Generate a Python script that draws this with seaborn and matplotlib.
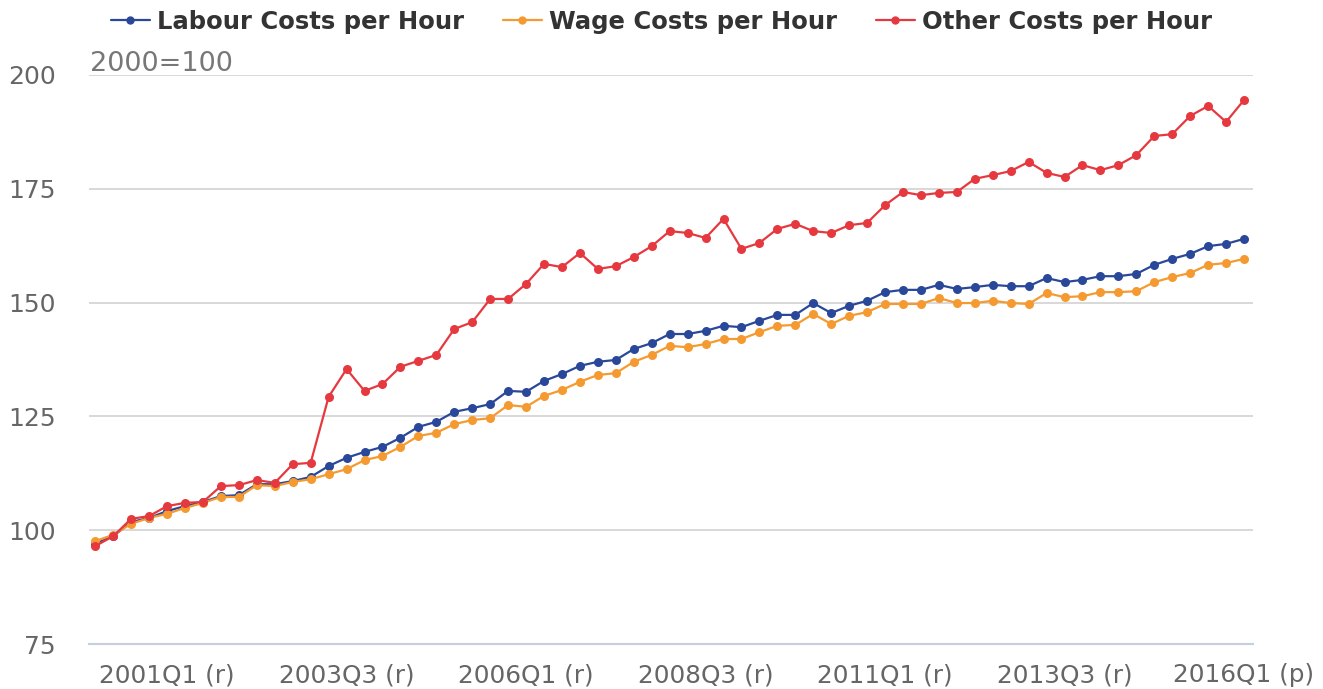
import numpy as np
import pandas as pd
import matplotlib
matplotlib.use("Agg")
import matplotlib.pyplot as plt
import seaborn as sns

quarters = [f"{y}Q{q}" for y in range(2000, 2017) for q in range(1, 5)][:65]

labour = [97.0, 98.7, 101.8, 102.7, 104.2, 105.3, 106.2, 107.5, 107.7, 110.1,
          110.1, 110.8, 111.7, 114.1, 115.9, 117.2, 118.3, 120.3, 122.7, 123.8,
          126.0, 126.8, 127.7, 130.6, 130.4, 132.8, 134.3, 136.1, 137.0, 137.4,
          139.8, 141.1, 143.1, 143.1, 143.8, 144.9, 144.6, 146.0, 147.3, 147.3,
          149.9, 147.7, 149.3, 150.4, 152.3, 152.8, 152.8, 153.9, 153.0, 153.4,
          153.9, 153.6, 153.6, 155.4, 154.5, 155.0, 155.8, 155.8, 156.3, 158.3,
          159.6, 160.7, 162.4, 162.9, 164.0]
wage = [97.6, 99.0, 101.4, 102.7, 103.6, 104.9, 106.0, 107.3, 107.3, 109.9,
        109.7, 110.6, 111.2, 112.3, 113.4, 115.4, 116.3, 118.3, 120.7, 121.4,
        123.3, 124.2, 124.6, 127.5, 127.1, 129.5, 130.8, 132.6, 134.1, 134.5,
        137.0, 138.5, 140.5, 140.2, 140.9, 142.0, 142.0, 143.5, 144.9, 145.1,
        147.5, 145.3, 147.1, 147.9, 149.7, 149.7, 149.7, 151.0, 149.9, 149.9,
        150.4, 149.9, 149.7, 152.1, 151.2, 151.4, 152.3, 152.3, 152.5, 154.5,
        155.6, 156.5, 158.3, 158.7, 159.6]
other = [96.5, 98.7, 102.5, 103.1, 105.3, 106.0, 106.2, 109.7, 109.9, 111.0,
         110.4, 114.5, 114.8, 129.3, 135.4, 130.6, 132.1, 135.9, 137.2, 138.5,
         144.2, 145.7, 150.8, 150.8, 154.1, 158.5, 157.8, 160.9, 157.4, 158.0,
         160.0, 162.4, 165.7, 165.3, 164.2, 168.4, 161.8, 163.1, 166.2, 167.3,
         165.7, 165.3, 167.0, 167.5, 171.4, 174.3, 173.6, 174.1, 174.3, 177.2,
         178.0, 178.9, 180.9, 178.5, 177.6, 180.2, 179.1, 180.2, 182.4, 186.6,
         187.0, 191.0, 193.2, 189.7, 194.5]

tick_labels = ["2001Q1 (r)", "2003Q3 (r)", "2006Q1 (r)", "2008Q3 (r)",
               "2011Q1 (r)", "2013Q3 (r)", "2016Q1 (p)"]
tick_quarters = ["2001Q1", "2003Q3", "2006Q1", "2008Q3", "2011Q1", "2013Q3", "2016Q1"]

names = ["Labour Costs per Hour", "Wage Costs per Hour", "Other Costs per Hour"]
colors = ["#2a4899", "#f59a30", "#e5393f"]

n = len(quarters)
df = pd.DataFrame({
    "pos": np.tile(np.arange(n), 3),
    "value": labour + wage + other,
    "series": np.repeat(names, n),
})

sns.set_style("white")
plt.rcParams["font.family"] = ["DejaVu Sans"]

fig = plt.figure(figsize=(13.23, 6.89), dpi=100)
ax = fig.add_axes([89 / 1323, 1 - 644 / 689, (1253 - 89) / 1323, (644 - 75) / 689])

sns.lineplot(data=df, x="pos", y="value", hue="series", palette=colors,
             marker="o", markersize=6.5, markeredgewidth=0, linewidth=1.6,
             ax=ax, legend=False)

ax.set_xlim(-0.35, n - 0.5)
ax.set_ylim(75, 200)
ax.set_yticks([75, 100, 125, 150, 175, 200])
ax.yaxis.grid(True, color="#d6d6d6", linewidth=1.3)
ax.set_axisbelow(True)
for s in ["top", "right", "left"]:
    ax.spines[s].set_visible(False)
ax.spines["bottom"].set_color("#c4d0e0")
ax.spines["bottom"].set_linewidth(1.5)

ax.set_xticks([quarters.index(q) for q in tick_quarters])
ax.set_xticklabels(tick_labels)
ax.tick_params(axis="x", length=10, width=1, color="#c4d0e0", colors="#666666",
               labelsize=17.8, pad=4)
ax.tick_params(axis="y", length=0, colors="#666666", labelsize=18, pad=24)
ax.set_xlabel("")
ax.set_ylabel("")

fig.text(90 / 1323, 1 - 64 / 689, "2000=100", color="#777777", fontsize=19.5,
         va="center", ha="left")

handles = [plt.Line2D([], [], color=c, marker="o", markersize=5, linewidth=1.6)
           for c in colors]
leg = fig.legend(handles, names, loc="center", bbox_to_anchor=(0.5, 1 - 22 / 689),
                 ncol=3, frameon=False, handlelength=1.6, handletextpad=0.3,
                 columnspacing=1.6, prop={"weight": "bold", "size": 17.5})
for t in leg.get_texts():
    t.set_color("#333333")

fig.savefig("out.png", dpi=100)
